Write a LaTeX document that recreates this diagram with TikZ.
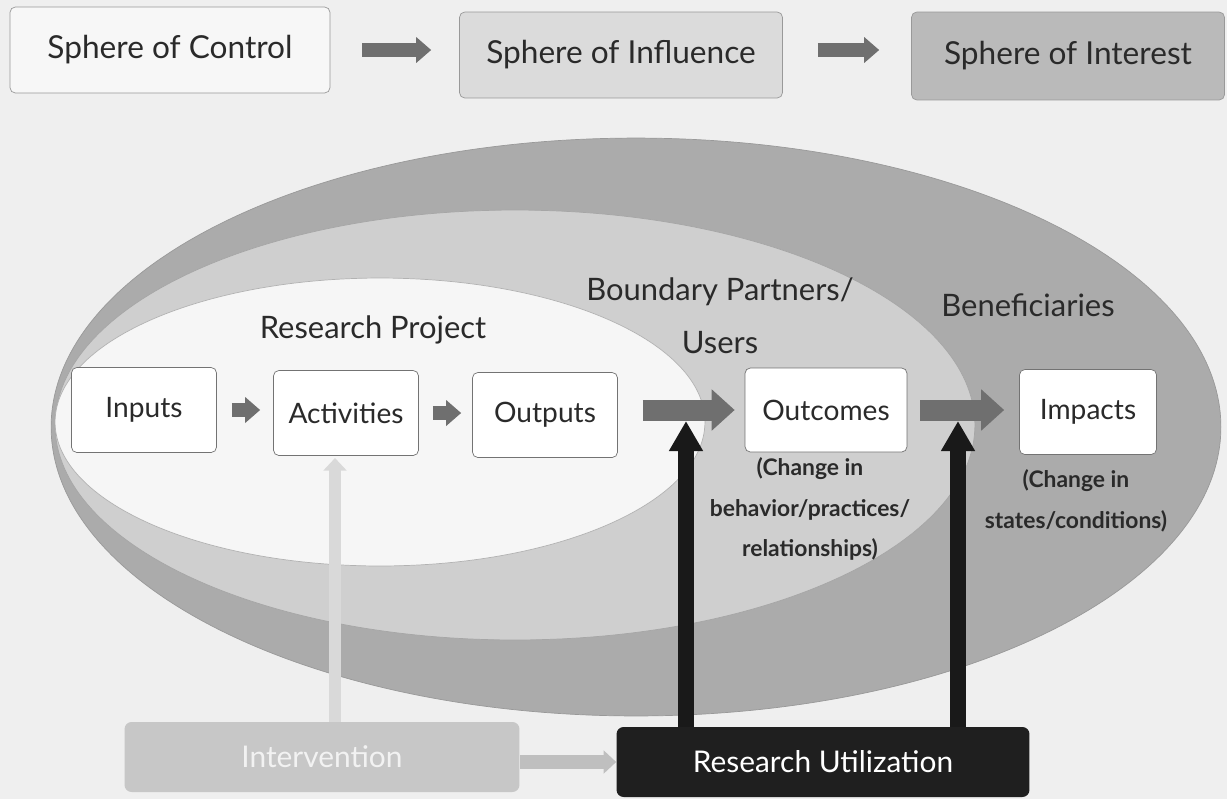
\documentclass[tikz,border=0pt]{standalone}
\usepackage{fontspec}
\setmainfont{Lato}
\usetikzlibrary{positioning,arrows.meta}

\definecolor{paper}{HTML}{EFEFEF}
\definecolor{ringout}{HTML}{ABABAB}
\definecolor{ringmid}{HTML}{CFCFCF}
\definecolor{ringin}{HTML}{F6F6F6}
\definecolor{flowgray}{HTML}{6F6F6F}
\definecolor{ink}{HTML}{2A2A2A}

\tikzset{
  spherebox/.style={draw=black!40, rounded corners=3pt, minimum width=6.4cm, minimum height=1.72cm, text=ink, font=\fontsize{18}{21}\selectfont},
  stepbox/.style={draw=black!55, rounded corners=3pt, fill=white, minimum width=2.9cm, minimum height=1.7cm, text=ink, font=\fontsize{16}{19}\selectfont},
  basebox/.style={rounded corners=4pt, minimum height=1.4cm, font=\fontsize{17}{20}\selectfont},
  zonelabel/.style={text=ink, font=\fontsize{17.6}{30}\selectfont, align=center},
  note/.style={text=ink, font=\bfseries\fontsize{13}{23}\selectfont, align=center},
  flow/.style={draw=flowgray, line width=0.28cm, -{Triangle[length=0.3cm,width=0.5cm]}},
  bigflow/.style={flow, line width=0.42cm, -{Triangle[length=0.46cm,width=0.8cm]}},
  liftarrow/.style={draw=black!90, line width=0.32cm, -{Triangle[length=0.6cm,width=0.64cm]}},
  feedarrow/.style={draw=black!15, line width=0.24cm, -{Triangle[length=0.25cm,width=0.45cm]}}
}

\begin{document}
\begin{tikzpicture}[x=0.02cm,y=-0.02cm]
  \fill[paper] (0,0) rectangle (1227,799);
  \useasboundingbox (0,0) rectangle (1227,799);

  % the three spheres on top
  \node[spherebox, fill=black!3] (control) at (170,50) {Sphere of Control};
  \node[spherebox, fill=black!14, minimum width=6.46cm] (influence) at (621,55) {Sphere of Influence};
  \node[spherebox, fill=black!27, minimum width=6.26cm, minimum height=1.76cm] (interest) at (1068,56) {Sphere of Interest};
  \draw[flow, shorten <=0.64cm, shorten >=0.56cm] (control.east) -- (control.east -| influence.west);
  \draw[flow, shorten <=0.7cm, shorten >=0.64cm] (influence.east |- control.east) -- (control.east -| interest.west);

  % nested rings
  \draw[black!40, fill=ringout] (636,427) ellipse [x radius=11.7cm, y radius=5.78cm];
  \draw[black!35, fill=ringmid] (515,425) ellipse [x radius=9.2cm, y radius=4.3cm];
  \draw[black!30, fill=ringin] (380,422) ellipse [x radius=6.5cm, y radius=2.88cm];

  \node[zonelabel] (project) at (373,330) {Research Project};
  \node[zonelabel] (partners) at (720,316) {Boundary Partners/\\Users};
  \node[zonelabel] (benef) at (1028,305) {Beneficiaries};

  % results chain
  \node[stepbox] (inputs) at (144,410) {Inputs};
  \node[stepbox] (act) at (346,413) {Activities};
  \node[stepbox] (outputs) at (545,415) {Outputs};
  \node[stepbox, minimum width=3.24cm, minimum height=1.68cm] (outcomes) at (826,410) {Outcomes};
  \node[stepbox, minimum width=2.74cm] (impacts) at (1088,412) {Impacts};

  \node[note] (outnote) at (810,509) {(Change in\\behavior/practices/\\relationships)};
  \node[note] (impnote) at (1076,501) {(Change in\\states/conditions)};

  \draw[flow, shorten <=0.3cm, shorten >=0.26cm] (inputs.east) -- (inputs.east -| act.west);
  \draw[flow, shorten <=0.28cm, shorten >=0.22cm] (act.east) -- (act.east -| outputs.west);
  \draw[bigflow, shorten <=0.5cm, shorten >=0.2cm] (outputs.east |- outcomes.west) -- (outcomes.west);
  \draw[bigflow, shorten <=0.26cm, shorten >=0.3cm] (outcomes.east) -- (outcomes.east -| impacts.west);

  % bottom
  \node[basebox, fill=black!22, text=black!5, minimum width=7.9cm] (inter) at (322,757) {Intervention};
  \node[basebox, fill=black!88, text=white, minimum width=8.26cm] (util) at (823,762) {Research Utilization};

  \coordinate (feed) at (335,458);
  \coordinate (hit1) at (686,421);
  \coordinate (hit2) at (958,421);
  \draw[feedarrow] (inter.north -| feed) -- (feed);
  \draw[feedarrow, draw=black!25, line width=0.28cm] (inter.east |- util.west) -- (util.west);
  \draw[liftarrow] (util.north -| hit1) -- (hit1);
  \draw[liftarrow] (util.north -| hit2) -- (hit2);
\end{tikzpicture}
\end{document}
